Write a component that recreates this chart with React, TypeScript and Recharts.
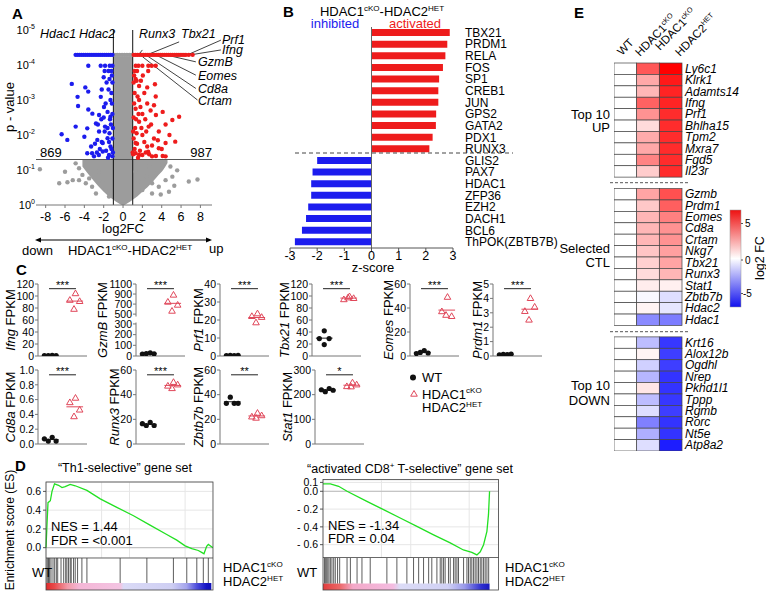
import React from 'react';
import {
  ComposedChart, ScatterChart, BarChart, LineChart,
  Scatter, Bar, Line, Area, Cell,
  XAxis, YAxis, CartesianGrid, ReferenceLine, ReferenceArea,
} from 'recharts';

const FONT = '"Liberation Sans", Arial, Helvetica, sans-serif';
const RED = '#ee1c1c';
const BLUE = '#1c1cee';
const GREY = '#9c9c9c';
const TRI = '#e0475a';

// ---------- A: volcano (x = log2FC, y = -log10 p) ----------
const TOP_P = 4.29;
const DOWN_BAND = [-4.9, -4.7, -4.5, -4.3, -4.1, -3.9, -3.7, -3.5, -3.3, -3.1, -2.9, -2.7, -2.5, -2.3, -2.1, -1.9, -1.7, -1.5, -1.3, -1.1];
const UP_BAND = [1.1, 1.3, 1.5, 1.7, 1.9, 2.1, 2.3, 2.5, 2.7, 2.9, 3.1, 3.3, 3.5, 3.7, 3.9, 4.1, 4.3, 4.5, 4.7, 4.9, 5.1, 5.3, 5.5, 5.7, 5.9, 6.1, 6.3, 6.5, 6.8, 7.2];
const NS_BAND = [-0.85, -0.6, -0.35, -0.1, 0.15, 0.4, 0.65, 0.9];
const DOWN_PTS = [
  [-3.59, 3.98], [-2.31, 3.98], [-1.86, 3.98], [-1.38, 3.98], [-1.1, 3.98], [-1.9, 3.83], [-1.5, 3.83], [-1.2, 3.83],
  [-5.3, 3.46], [-3.9, 3.36], [-3.6, 3.24], [-4.7, 3.09], [-2.3, 3.09], [-4.65, 2.83], [-3.59, 2.73], [-3.17, 2.61],
  [-2.48, 2.57], [-1.97, 2.8], [-1.6, 2.66], [-1.3, 2.52], [-4.9, 2.24], [-3.7, 2.19], [-2.8, 2.33], [-2.48, 2.1],
  [-1.86, 2.24], [-6.35, 2.02], [-5.76, 1.86], [-4.0, 1.95], [-2.66, 1.86], [-2.1, 1.77], [-1.6, 1.91], [-1.3, 1.67],
  [-3.3, 1.67], [-3.7, 1.48], [-3.0, 1.39], [-2.1, 1.53], [-1.45, 1.43], [-1.1, 1.39], [-3.2, 1.48], [-2.5, 1.43],
  [-1.1, 3.5], [-1.2, 3.2], [-1.15, 2.9], [-1.3, 3.0], [-1.1, 2.6], [-1.25, 2.3], [-1.4, 2.05], [-1.1, 1.9],
  [-1.2, 1.6], [-1.45, 1.8], [-1.35, 2.45], [-1.5, 3.3], [-1.8, 2.9], [-1.9, 2.1], [-1.75, 1.55], [-2.2, 1.8],
  [-2.25, 2.45], [-2.2, 3.3], [-1.05, 2.2], [-1.05, 1.5], [-1.6, 2.2], [-1.15, 3.7], [-1.4, 3.6], [-2.6, 2.3],
  [-2.9, 1.75], [-2.7, 1.5], [-1.7, 3.5], [-2.0, 3.65], [-2.4, 1.6], [-1.55, 1.35], [-2.0, 2.5],
];
const UP_PTS = [
  [1.31, 3.98], [1.59, 3.98], [2.0, 3.98], [2.62, 3.98], [2.97, 3.98], [3.38, 3.98], [1.2, 3.83], [1.45, 3.83], [2.6, 3.83],
  [1.3, 3.6], [1.66, 3.4], [2.5, 3.36], [3.3, 3.45], [1.66, 3.0], [2.5, 2.9], [3.38, 3.1], [2.85, 2.7], [2.0, 2.6],
  [3.4, 2.57], [4.1, 2.66], [1.66, 2.38], [2.65, 2.24], [3.7, 2.1], [4.4, 2.3], [5.1, 2.43], [5.8, 2.52], [2.0, 2.0],
  [3.2, 1.9], [4.4, 1.77], [5.4, 1.81], [1.3, 1.77], [2.5, 1.67], [3.7, 1.62], [1.66, 1.43], [3.0, 1.39], [4.4, 1.39],
  [1.3, 1.48], [2.0, 1.43], [2.6, 1.52], [3.4, 1.4], [4.1, 1.4],
  [1.1, 3.5], [1.2, 3.2], [1.15, 2.9], [1.3, 2.75], [1.1, 2.5], [1.25, 2.2], [1.4, 2.05], [1.1, 1.9], [1.2, 1.6],
  [1.45, 1.75], [1.35, 2.45], [1.5, 3.1], [1.8, 2.8], [1.9, 2.2], [1.75, 1.55], [2.2, 1.8], [2.3, 2.45], [2.2, 3.2],
  [1.05, 2.1], [1.05, 1.45], [1.6, 2.6], [1.15, 3.7], [1.4, 3.55], [2.9, 2.3], [3.0, 1.7], [2.7, 1.45], [3.6, 1.85],
  [4.8, 2.0], [4.0, 1.6], [1.85, 3.55], [2.05, 3.7], [2.35, 1.5], [1.55, 1.35], [2.4, 2.1], [3.2, 2.85], [1.0, 1.5],
];
const NS_PTS = [
  [-8.6, 1.02], [-6.6, 0.62], [-5.75, 0.65], [-4.9, 1.19], [-4.55, 1.05], [-4.2, 0.86], [-5.2, 0.71], [-3.85, 0.62],
  [-3.5, 0.76], [-3.2, 0.52], [-2.8, 0.33], [-2.5, 0.95], [-2.15, 0.65], [-1.8, 0.43], [-1.45, 0.24], [-4.55, 0.71],
  [-6.0, 0.95], [1.3, 0.95], [1.66, 0.67], [2.0, 0.43], [2.4, 0.81], [2.7, 1.1], [3.0, 0.62], [3.4, 0.9], [3.7, 0.52],
  [4.1, 1.14], [4.4, 0.71], [5.1, 0.81], [5.6, 0.99], [4.75, 0.38], [3.0, 0.33], [6.8, 0.67], [7.7, 0.73], [4.9, 1.1],
  [5.3, 0.55], [3.9, 0.3],
];
// dense grey core of non-significant genes: [low, high] of -log10 p along log2FC
const CORE_X = [-4.2, -3.5, -3, -2.5, -2, -1.5, -1, -1, -0.5, 0, 0.5, 1, 1, 1.5, 2, 2.5, 3, 3.5, 4.2, 4.6];
const CORE_LO = [1.1, 0.85, 0.68, 0.52, 0.38, 0.25, 0.15, 0.15, 0.06, 0, 0.06, 0.15, 0.15, 0.25, 0.38, 0.5, 0.64, 0.8, 1.02, 1.2];
const CORE_HI = [1.3, 1.3, 1.3, 1.3, 1.3, 1.3, 1.3, 4.25, 4.25, 4.25, 4.25, 4.25, 1.3, 1.3, 1.3, 1.3, 1.3, 1.3, 1.3, 1.3];
// label anchor -> gene point
const LEADERS = [
  [10.12, 4.71, 6.66, 4.29], [10.12, 4.43, 6.31, 4.26], [7.53, 4.09, 4.42, 4.29], [7.53, 3.71, 3.38, 4.29],
  [7.53, 3.33, 2.35, 4.29], [7.7, 3.0, 2.0, 4.24], [2.0, 4.43, 1.66, 4.31], [5.8, 4.66, 2.48, 4.29],
];

// ---------- B: upstream regulators ----------
const TF_NAMES = ['TBX21', 'PRDM1', 'RELA', 'FOS', 'SP1', 'CREB1', 'JUN', 'GPS2', 'GATA2', 'PDX1', 'RUNX3',
  'GLIS2', 'PAX7', 'HDAC1', 'ZFP36', 'EZH2', 'DACH1', 'BCL6', 'ThPOK(ZBTB7B)'];
const TF_Z = [2.88, 2.79, 2.72, 2.63, 2.49, 2.46, 2.46, 2.38, 2.37, 2.25, 2.13,
  -2.0, -2.17, -2.22, -2.22, -2.33, -2.41, -2.56, -2.82];

// ---------- C: FPKM per mouse ----------
const IFNG_WT = [0.8, 0.5, 1.0, 0.6], IFNG_KO = [104, 93, 91, 78];
const GZMB_WT = [18, 22, 30, 20], GZMB_KO = [880, 740, 680, 560];
const PRF1_WT = [0.2, 0.3, 0.2, 0.4], PRF1_KO = [23.5, 22, 21.5, 18.5];
const TBX21_WT = [42, 29, 29, 19], TBX21_KO = [99, 94, 96, 97];
const EOMES_WT = [2, 3, 4.5, 2.5], EOMES_KO = [49, 37, 33, 34];
const PRDM1_WT = [0.08, 0.12, 0.1, 0.14], PRDM1_KO = [4.0, 3.1, 3.4, 2.5];
const CD8A_WT = [0.07, 0.04, 0.09, 0.04], CD8A_KO = [0.62, 0.56, 0.46, 0.37];
const RUNX3_WT = [16.5, 15, 17.5, 15], RUNX3_KO = [50, 47, 48, 45];
const ZBTB7B_WT = [33, 38, 33, 33], ZBTB7B_KO = [25, 22, 23, 21];
const STAT1_WT = [220, 212, 225, 218], STAT1_KO = [248, 233, 240, 232];

// ---------- D: GSEA running enrichment score ----------
const TH1_RANK = [0, 0.6, 1.2, 2.6, 3.6, 5.1, 7.5, 9.6, 11.5, 14.5, 17.5, 24.5, 32.5, 42.4, 52.4, 62.3, 72.3, 78.3, 83.3, 87.3, 91.2, 93.2, 94.6, 96.2, 97.2, 100];
const TH1_ES = [0, 0.25, 0.48, 0.5, 0.6, 0.68, 0.665, 0.64, 0.65, 0.675, 0.66, 0.61, 0.52, 0.43, 0.34, 0.24, 0.14, 0.08, 0.02, -0.01, -0.03, -0.05, -0.065, 0.015, 0.035, 0];
const TH1_HITS = [0.6, 1.2, 1.6, 2.2, 3.0, 4.2, 5.2, 6.2, 7.0, 9.0, 10.6, 11.8, 12.5, 13.5, 14.5, 15.1, 16.5, 17.5, 18.9, 21.5, 24.5, 44.4, 60.4, 76.3, 84.3, 90.3, 94.2, 97.2];
const CD8_RANK = [0, 4.2, 8.9, 13.7, 25, 34.5, 44, 53.5, 63, 72.5, 80, 84.8, 87.7, 89.6, 91.5, 93.4, 94.3, 94.9];
const CD8_ES = [0.083, 0.083, 0.056, 0, -0.113, -0.207, -0.3, -0.395, -0.49, -0.58, -0.66, -0.686, -0.715, -0.68, -0.6, -0.45, -0.26, 0];
const CD8_HITS = [0.8, 1.3, 1.9, 2.7, 3.4, 4.2, 5.1, 6.1, 7.0, 8.3, 9.5, 13.7, 15.6, 19.4, 22.2, 26.9, 36.4, 42.1, 47.8, 51.6, 54.5, 57.3,
  60.2, 62.0, 64.9, 66.8, 67.7, 68.7, 69.6, 71.5, 72.5, 74.4, 75.3, 76.3, 77.2, 80.1, 82.0, 82.9, 83.9, 84.8, 85.8, 86.7, 87.7, 88.6,
  89.6, 90.5, 91.5, 92.4, 93.4, 94.4];

// ---------- E: heatmap log2 FC ----------
const UP_GENES = ['Ly6c1', 'Klrk1', 'Adamts14', 'Ifng', 'Prf1', 'Bhlha15', 'Tpm2', 'Mxra7', 'Fgd5', 'Il23r'];
const UP_KO = [4.6, 2.4, 2.0, 4.3, 3.0, 1.0, 2.3, 2.4, 3.4, 1.4];
const UP_DKO = [7.0, 6.3, 6.0, 6.0, 5.8, 5.8, 5.8, 5.8, 5.8, 5.8];
const CTL_GENES = ['Gzmb', 'Prdm1', 'Eomes', 'Cd8a', 'Crtam', 'Nkg7', 'Tbx21', 'Runx3', 'Stat1', 'Zbtb7b', 'Hdac2', 'Hdac1'];
const CTL_KO = [2.5, 1.5, 2.0, 2.0, 2.0, 1.6, 1.3, 1.0, 0.5, -0.2, 0.3, -3.2];
const CTL_DKO = [4.8, 4.4, 3.5, 3.0, 3.0, 2.6, 2.5, 2.0, 0.4, -0.9, -0.7, -3.6];
const DOWN_GENES = ['Krt16', 'Alox12b', 'Ogdhl', 'Nrep', 'Pkhd1l1', 'Tppp', 'Rgmb', 'Rorc', 'Nt5e', 'Atp8a2'];
const DOWN_KO = [-1.8, 0.3, -1.3, -2.0, 0.7, -1.8, -0.9, -3.5, -2.2, -0.9];
const DOWN_DKO = [-5.5, -5.3, -5.3, -5.6, -5.6, -5.5, -5.3, -5.6, -5.6, -6.2];
const WT_FC = 0;

// ---------- helpers ----------
const Box = ({ x, y, children }: { x: number; y: number; children: React.ReactNode }) => (
  <div style={{ position: 'absolute', left: x, top: y }}>{children}</div>
);
const pts = (a: number[][]) => a.map(([x, y]) => ({ x, y }));
const dot = (fill: string, r = 2.2) => (p: any) => <circle cx={p.cx} cy={p.cy} r={r} fill={fill} />;
const triangle = (p: any) => (
  <path d={`M${p.cx},${p.cy - 3.6}L${p.cx + 3.3},${p.cy + 2.1}L${p.cx - 3.3},${p.cy + 2.1}Z`} fill="none" stroke={TRI} strokeWidth={1} />
);
const mean = (a: number[]) => a.reduce((s, v) => s + v, 0) / a.length;

function PowTick(p: any) {
  const v = p.payload.value;
  return (
    <text x={p.x} y={p.y + 4} textAnchor="end" fontSize={11} fill="#000">
      10<tspan fontSize={7} dy={-5}>{v === 0 ? '0' : `-${v}`}</tspan>
    </text>
  );
}

function Volcano() {
  const core = CORE_X.map((x, i) => ({ x, band: [CORE_LO[i], CORE_HI[i]] }));
  const grey = [...NS_BAND.map((x) => ({ x, y: TOP_P })), ...pts(NS_PTS)];
  const down = [...DOWN_BAND.map((x) => ({ x, y: TOP_P })), ...pts(DOWN_PTS)];
  const up = [...UP_BAND.map((x) => ({ x, y: TOP_P })), ...pts(UP_PTS)];
  return (
    <Box x={0} y={0}>
      <ComposedChart width={230} height={230} margin={{ top: 30, right: 18, bottom: 0, left: 0 }}>
        <XAxis type="number" dataKey="x" domain={[-9, 9.2]} ticks={[-8, -6, -4, -2, 0, 2, 4, 6, 8]} height={25}
          tickSize={3} tickMargin={4} tick={{ fontSize: 12.5, fill: '#000' }} axisLine={{ stroke: '#777' }}
          tickLine={{ stroke: '#777' }} allowDataOverflow interval={0} />
        <YAxis type="number" dataKey="y" domain={[0, 5]} ticks={[0, 1, 2, 3, 4, 5]} width={36} tickSize={0}
          tickMargin={1} axisLine={false} tickLine={false} tick={(p: any) => <PowTick {...p} />} allowDataOverflow interval={0} />
        <Area data={core} dataKey="band" type="monotone" fill={GREY} fillOpacity={1} stroke="none" isAnimationActive={false} />
        <Scatter data={grey} shape={dot(GREY)} isAnimationActive={false} />
        <Scatter data={down} shape={dot(BLUE)} isAnimationActive={false} />
        <Scatter data={up} shape={dot(RED)} isAnimationActive={false} />
        <ReferenceLine y={1.3} stroke="#555" />
        <ReferenceLine x={-1} stroke="#111" />
        <ReferenceLine x={1} stroke="#111" />
        {LEADERS.map((l, i) => (
          <ReferenceLine key={i} segment={[{ x: l[0], y: l[1] }, { x: l[2], y: l[3] }]} stroke="#111"
            strokeWidth={0.8} ifOverflow="visible" />
        ))}
      </ComposedChart>
    </Box>
  );
}

function TfBars() {
  const data = TF_NAMES.map((name, i) => ({ name, z: TF_Z[i] }));
  return (
    <Box x={280} y={0}>
      <BarChart width={290} height={270} layout="vertical" data={data} margin={{ top: 27, right: 0, bottom: 0, left: 10 }}>
        <XAxis type="number" domain={[-3, 3]} ticks={[-3, -2, -1, 0, 1, 2, 3]} height={22} tickSize={3} tickMargin={0}
          tick={{ fontSize: 12.5, fill: '#000' }} axisLine={{ stroke: '#555' }} tickLine={{ stroke: '#555' }} interval={0} />
        <YAxis type="category" dataKey="name" orientation="right" width={117} axisLine={false} tickLine={false}
          tickSize={6} tickMargin={6} interval={0}
          tick={(p: any) => <text x={p.x} y={p.y} dy={4} fontSize={12} textAnchor="start" fill="#000">{p.payload.value}</text>} />
        <Bar dataKey="z" barSize={7} isAnimationActive={false}>
          {data.map((d, i) => <Cell key={i} fill={d.z > 0 ? RED : BLUE} />)}
        </Bar>
        <ReferenceLine x={0} stroke="#666" />
      </BarChart>
    </Box>
  );
}

// ---------- C ----------
const WT_JIT = [-0.24, -0.08, 0.08, 0.24];
const KO_JIT = [0.03, -0.2, 0.2, -0.03];
const YW = 44;
const gzDisp = (v: number) => (v <= 300 ? v : v < 500 ? 300 + (v - 300) * 0.46 : 392 + (v - 500) * 0.47);

const C_PANELS: any[] = [
  { gene: 'Ifng', axisX: 38, top: 284, h: 72, max: 120, ticks: [0, 20, 40, 60, 80, 100, 120], wt: IFNG_WT, ko: IFNG_KO, sig: '***', dx: 28 },
  { gene: 'GzmB', axisX: 136, top: 284, h: 72, max: 1100, ticks: [0, 100, 200, 300, 500, 700, 900, 1100], wt: GZMB_WT, ko: GZMB_KO, sig: '***', dx: 34, disp: gzDisp },
  { gene: 'Prf1', axisX: 220, top: 284, h: 72, max: 40, ticks: [0, 10, 20, 30, 40], wt: PRF1_WT, ko: PRF1_KO, sig: '***', dx: 22 },
  { gene: 'Tbx21', axisX: 312, top: 284, h: 72, max: 120, ticks: [0, 20, 40, 60, 80, 100, 120], wt: TBX21_WT, ko: TBX21_KO, sig: '***', dx: 28, wtJit: [0, -0.2, 0.2, 0] },
  { gene: 'Eomes', axisX: 410, top: 284, h: 72, max: 60, ticks: [0, 20, 40, 60], wt: EOMES_WT, ko: EOMES_KO, sig: '***', dx: 22 },
  { gene: 'Prdm1', axisX: 493, top: 284, h: 72, max: 5, ticks: [0, 1, 2, 3, 4, 5], wt: PRDM1_WT, ko: PRDM1_KO, sig: '***', dx: 16 },
  { gene: 'Cd8a', axisX: 38, top: 370, h: 74, max: 1, ticks: [0, 0.2, 0.4, 0.6, 0.8, 1], wt: CD8A_WT, ko: CD8A_KO, sig: '***', dx: 28, fmt: (v: number) => v.toFixed(1) },
  { gene: 'Runx3', axisX: 136, top: 370, h: 74, max: 60, ticks: [0, 20, 40, 60], wt: RUNX3_WT, ko: RUNX3_KO, sig: '***', dx: 22 },
  { gene: 'Zbtb7b', axisX: 220, top: 370, h: 74, max: 60, ticks: [0, 20, 40, 60], wt: ZBTB7B_WT, ko: ZBTB7B_KO, sig: '**', dx: 22 },
  { gene: 'Stat1', axisX: 315, top: 370, h: 74, max: 300, ticks: [0, 100, 200, 300], wt: STAT1_WT, ko: STAT1_KO, sig: '*', dx: 28 },
];

function MiniPlot({ c }: { c: any }) {
  const d = c.disp || ((v: number) => v);
  const fmt = c.fmt || ((v: number) => String(v));
  const wj = c.wtJit || WT_JIT;
  const wt = c.wt.map((v: number, i: number) => ({ x: 1 + wj[i % 4], y: d(v) }));
  const ko = c.ko.map((v: number, i: number) => ({ x: 2 + KO_JIT[i % 4], y: d(v) }));
  const top = d(c.max);
  const dTicks = c.ticks.map(d);
  const sigY = top * 0.935;
  const mw = d(mean(c.wt));
  const mk = d(mean(c.ko));
  return (
    <Box x={c.axisX - YW} y={c.top - 8}>
      <ScatterChart width={YW + 52} height={c.h + 16} margin={{ top: 8, right: 3, bottom: 7, left: 0 }}>
        <XAxis type="number" dataKey="x" domain={[0.5, 2.5]} tick={false} tickLine={false} height={1} axisLine={{ stroke: '#777' }} />
        <YAxis type="number" dataKey="y" domain={[0, top]} ticks={dTicks} width={YW} interval={0} allowDataOverflow
          tickFormatter={(v: number) => fmt(c.ticks[dTicks.findIndex((t: number) => Math.abs(t - v) < 1e-6)])}
          tick={{ fontSize: 10.5, fill: '#000' }} tickSize={3} tickMargin={1}
          tickLine={{ stroke: '#777' }} axisLine={{ stroke: '#777' }} />
        <ReferenceLine segment={[{ x: 0.66, y: mw }, { x: 1.34, y: mw }]} stroke="#222" />
        <ReferenceLine segment={[{ x: 1.66, y: mk }, { x: 2.34, y: mk }]} stroke={TRI} />
        <ReferenceLine segment={[{ x: 0.95, y: sigY }, { x: 2.05, y: sigY }]} stroke="#222"
          label={{ value: c.sig, position: 'top', fontSize: 11, fill: '#000', offset: 0 }} />
        <Scatter data={wt} shape={dot('#111', 2.6)} isAnimationActive={false} />
        <Scatter data={ko} shape={triangle} isAnimationActive={false} />
      </ScatterChart>
    </Box>
  );
}

// ---------- D ----------
const GRID_X = [16.7, 33.3, 50, 66.7, 83.3];
const LEFT_STOPS = [['0%', '#e02a2a'], ['5%', '#e84a4a'], ['13%', '#f29aa8'], ['20%', '#f5b6d6'], ['45%', '#f3c4e2'],
  ['47%', '#dadaf6'], ['76%', '#cfcff3'], ['85%', '#a4a4ec'], ['91%', '#5050dc'], ['97%', '#1414c4'], ['100%', '#1010b8']];
const RIGHT_STOPS = [['0%', '#e23c3c'], ['10%', '#ec6868'], ['18%', '#f3a8c8'], ['42%', '#f4bce0'], ['46%', '#dcdcf6'],
  ['75%', '#d0d0f4'], ['85%', '#9a9aea'], ['95%', '#3030d0'], ['100%', '#1818c0']];

function Gsea(g: any) {
  const data = g.ranks.map((r: number, i: number) => ({ r, es: g.es[i] }));
  const hitPts = g.hits.map((r: number) => ({ r, y: 1 }));
  const barH = 590 - (g.top + g.esH);
  return (
    <>
      <Box x={g.left - g.yW} y={g.top - 6}>
        <LineChart width={g.yW + g.plotW} height={g.esH + 6} data={data} margin={{ top: 6, right: 0, bottom: 0, left: 0 }}>
          <CartesianGrid stroke="#e6e6e6" />
          <XAxis type="number" dataKey="r" domain={[0, 100]} ticks={GRID_X} hide />
          <YAxis type="number" domain={g.domain} ticks={g.ticks} tickFormatter={g.fmt} width={g.yW} tickSize={3}
            tickMargin={2} axisLine={false} tickLine={{ stroke: '#555' }} tick={{ fontSize: 10.5, fill: '#000' }}
            allowDataOverflow interval={0} />
          <ReferenceLine y={0} stroke="#bbb" />
          <Line dataKey="es" type="linear" stroke="#22e022" strokeWidth={1.3} dot={false} isAnimationActive={false} />
        </LineChart>
      </Box>
      <Box x={g.left} y={g.top + g.esH}>
        <ScatterChart width={g.plotW} height={barH} margin={{ top: 0, right: 0, bottom: 0, left: 0 }}>
          <defs>
            <linearGradient id={g.gradId} x1="0" y1="0" x2="1" y2="0">
              {g.stops.map((s: string[], i: number) => <stop key={i} offset={s[0]} stopColor={s[1]} />)}
            </linearGradient>
          </defs>
          <XAxis type="number" dataKey="r" domain={[0, 100]} hide />
          <YAxis type="number" dataKey="y" domain={[0, 1]} hide />
          <ReferenceArea x1={0} x2={g.colorEnd} y1={0} y2={7 / barH} fill={`url(#${g.gradId})`} fillOpacity={1} stroke="none" />
          <Scatter data={hitPts} isAnimationActive={false}
            shape={(p: any) => <line x1={p.cx} x2={p.cx} y1={p.cy} y2={p.cy + barH - 7} stroke="#333" strokeWidth={0.8} />} />
        </ScatterChart>
      </Box>
    </>
  );
}

// ---------- E ----------
const CW = 68 / 3;
const CH = 388 / 34;
const heat = (v: number) => {
  const t = Math.min(Math.abs(v) / 7, 1);
  const c = Math.round(255 * (1 - t));
  return v >= 0 ? `rgb(255,${c},${c})` : `rgb(${c},${c},255)`;
};

function Heatmap() {
  const rows = [
    ...UP_GENES.map((g, i) => ({ g, r: i, ko: UP_KO[i], dko: UP_DKO[i] })),
    ...CTL_GENES.map((g, i) => ({ g, r: 11 + i, ko: CTL_KO[i], dko: CTL_DKO[i] })),
    ...DOWN_GENES.map((g, i) => ({ g, r: 24 + i, ko: DOWN_KO[i], dko: DOWN_DKO[i] })),
  ];
  const cells = rows.flatMap((row) => [
    { x: 0.5, y: row.r + 0.5, v: WT_FC },
    { x: 1.5, y: row.r + 0.5, v: row.ko },
    { x: 2.5, y: row.r + 0.5, v: row.dko },
  ]);
  const ticks = rows.map((r) => r.r + 0.5);
  const names: Record<string, string> = {};
  rows.forEach((r) => { names[String(r.r + 0.5)] = r.g; });
  return (
    <Box x={614} y={62}>
      <ScatterChart width={140} height={389} margin={{ top: 1, right: 0, bottom: 0, left: 0 }}>
        <XAxis type="number" dataKey="x" domain={[0, 3]} hide />
        <YAxis type="number" dataKey="y" domain={[0, 34]} reversed orientation="right" width={72} ticks={ticks}
          interval={0} axisLine={false} tickLine={false} tickSize={1} tickMargin={2}
          tick={(p: any) => (
            <text x={p.x} y={p.y} dy={4} fontSize={12} fontStyle="italic" textAnchor="start" fill="#000">
              {names[String(p.payload.value)]}
            </text>
          )} />
        <Scatter data={cells} isAnimationActive={false}
          shape={(p: any) => {
            const v = p.payload ? p.payload.v : p.v;
            return <rect x={p.cx - CW / 2} y={p.cy - CH / 2} width={CW} height={CH} fill={heat(v)} stroke="#444" strokeWidth={0.7} />;
          }} />
      </ScatterChart>
    </Box>
  );
}

// ---------- overlay text ----------
function SupText({ x, y, main, sup, size = 13, anchor = 'start', transform, fill = '#000' }: any) {
  return (
    <text x={x} y={y} fontSize={size} textAnchor={anchor} transform={transform} fill={fill}>
      {main}<tspan fontSize={size * 0.62} dy={-size * 0.4}>{sup}</tspan>
    </text>
  );
}
function HdacLine({ x, y, size = 13, anchor = 'start' }: any) {
  return (
    <text x={x} y={y} fontSize={size} textAnchor={anchor}>
      HDAC1<tspan fontSize={size * 0.62} dy={-size * 0.4}>cKO</tspan>
      <tspan dy={size * 0.4}>-HDAC2</tspan>
      <tspan fontSize={size * 0.62} dy={-size * 0.4}>HET</tspan>
    </text>
  );
}

const A_LABELS: [string, number, number][] = [['Hdac1', 40, 38], ['Hdac2', 79, 38], ['Runx3', 139, 38], ['Tbx21', 181, 38],
  ['Prf1', 222, 44], ['Ifng', 222, 54], ['GzmB', 198, 66], ['Eomes', 198, 80], ['Cd8a', 198, 93], ['Crtam', 198, 105]];

function Overlay() {
  return (
    <svg width={766} height={591} style={{ position: 'absolute', left: 0, top: 0, pointerEvents: 'none' }} fontFamily={FONT}>
      <defs>
        <linearGradient id="cbE" x1="0" y1="0" x2="0" y2="1">
          <stop offset="0%" stopColor="#ee1111" />
          <stop offset="50%" stopColor="#ffffff" />
          <stop offset="100%" stopColor="#1111ee" />
        </linearGradient>
      </defs>
      {/* panel letters */}
      <g fontSize={15} fontWeight="bold">
        <text x={12} y={19}>A</text>
        <text x={283} y={17}>B</text>
        <text x={16} y={275}>C</text>
        <text x={15} y={471}>D</text>
        <text x={574} y={18}>E</text>
      </g>
      {/* A */}
      <g fontSize={12.5} fontStyle="italic">
        {A_LABELS.map(([t, x, y]) => <text key={t} x={x} y={y}>{t}</text>)}
      </g>
      <text x={40} y={157} fontSize={13}>869</text>
      <text x={212} y={157} fontSize={13} textAnchor="end">987</text>
      <text transform="translate(14,107) rotate(-90)" textAnchor="middle" fontSize={13}>p - value</text>
      <text x={123} y={233} fontSize={13} textAnchor="middle">log2FC</text>
      <line x1={38} y1={240} x2={209} y2={240} stroke="#000" strokeWidth={1} />
      <path d="M35,240L41,237.5L41,242.5Z" fill="#000" />
      <path d="M212,240L206,237.5L206,242.5Z" fill="#000" />
      <text x={22} y={255} fontSize={13}>down</text>
      <HdacLine x={130} y={255} anchor="middle" />
      <text x={209} y={253} fontSize={13}>up</text>
      {/* B */}
      <HdacLine x={382} y={16} anchor="middle" />
      <text x={335} y={28} fontSize={13} textAnchor="middle" fill={BLUE}>inhibited</text>
      <text x={415} y={28} fontSize={13} textAnchor="middle" fill={RED}>activated</text>
      <text x={373} y={272} fontSize={13} textAnchor="middle">z-score</text>
      <line x1={295} y1={153} x2={513} y2={153} stroke="#444" strokeDasharray="4 3" />
      {/* C */}
      {C_PANELS.map((c) => (
        <text key={c.gene} transform={`translate(${c.axisX - c.dx},${c.top + c.h / 2}) rotate(-90)`} textAnchor="middle"
          dy="0.35em" fontSize={13}>
          <tspan fontStyle="italic">{c.gene}</tspan>{' FPKM'}
        </text>
      ))}
      <rect x={134.5} y={316.5} width={3} height={6} fill="#fff" />
      <circle cx={413} cy={377.5} r={3} fill="#111" />
      <text x={422} y={382} fontSize={13}>WT</text>
      <path d="M414,390.5L417.3,396.2L410.7,396.2Z" fill="none" stroke={TRI} />
      <SupText x={422} y={398.5} main="HDAC1" sup="cKO" />
      <SupText x={422} y={412} main="HDAC2" sup="HET" />
      {/* D */}
      <text x={125} y={472} fontSize={12.5} textAnchor="middle">{'\u201CTh1-selective\u201D gene set'}</text>
      <text x={410} y={473} fontSize={12.5} textAnchor="middle">
        {'\u201Cactivated CD8'}<tspan fontSize={8} dy={-5}>+</tspan><tspan dy={5}>{' T-selective\u201D gene set'}</tspan>
      </text>
      <rect x={46} y={482} width={167} height={108} fill="none" stroke="#444" strokeWidth={0.8} />
      <line x1={46} y1={558} x2={213} y2={558} stroke="#444" strokeWidth={0.8} />
      <rect x={323} y={479.5} width={175.5} height={110.5} fill="none" stroke="#444" strokeWidth={0.8} />
      <line x1={323} y1={557.5} x2={498.5} y2={557.5} stroke="#444" strokeWidth={0.8} />
      <text x={51} y={531} fontSize={13}>NES = 1.44</text>
      <text x={51} y={545} fontSize={13}>{'FDR = <0.001'}</text>
      <text x={328} y={530} fontSize={13}>NES = -1.34</text>
      <text x={328} y={543} fontSize={13}>FDR = 0.04</text>
      <text transform="translate(14,530) rotate(-90)" textAnchor="middle" fontSize={12}>Enrichment score (ES)</text>
      <text x={32} y={577} fontSize={13}>WT</text>
      <text x={297} y={577} fontSize={13}>WT</text>
      <SupText x={223} y={572} main="HDAC1" sup="cKO" />
      <SupText x={223} y={586} main="HDAC2" sup="HET" />
      <SupText x={505} y={572} main="HDAC1" sup="cKO" />
      <SupText x={505} y={586} main="HDAC2" sup="HET" />
      {/* E */}
      <text transform="translate(622,56) rotate(-46)" fontSize={11.5}>WT</text>
      <SupText x={0} y={0} main="HDAC1" sup="cKO" size={11.5} transform="translate(640,57) rotate(-46)" />
      <SupText x={0} y={0} main="HDAC1" sup="cKO" size={11.5} transform="translate(660,51) rotate(-46)" />
      <SupText x={0} y={0} main="HDAC2" sup="HET" size={11.5} transform="translate(680,57) rotate(-46)" />
      <g fontSize={13} textAnchor="end">
        <text x={610} y={119}>Top 10</text>
        <text x={610} y={132}>UP</text>
        <text x={610} y={253}>Selected</text>
        <text x={610} y={267}>CTL</text>
        <text x={610} y={390}>Top 10</text>
        <text x={610} y={405}>DOWN</text>
      </g>
      <line x1={610} y1={182.7} x2={688} y2={182.7} stroke="#555" strokeDasharray="3 2" />
      <line x1={610} y1={331.7} x2={688} y2={331.7} stroke="#555" strokeDasharray="3 2" />
      <rect x={730} y={210} width={11} height={97} fill="url(#cbE)" stroke="#999" strokeWidth={0.5} />
      <g stroke="#555">
        <line x1={741} y1={223.5} x2={743} y2={223.5} />
        <line x1={741} y1={260} x2={743} y2={260} />
        <line x1={741} y1={293.5} x2={743} y2={293.5} />
      </g>
      <g fontSize={10}>
        <text x={745} y={227}>5</text>
        <text x={745} y={263.5}>0</text>
        <text x={743} y={297}>-5</text>
      </g>
      <text transform="translate(764,258) rotate(-90)" textAnchor="middle" fontSize={12.5}>log2 FC</text>
    </svg>
  );
}

export default function App() {
  const fmtL = (v: number) => v.toFixed(1);
  const fmtR = (v: number) => (v < 0 ? `- ${Math.abs(v).toFixed(1)}` : v.toFixed(1));
  return (
    <div style={{ position: 'absolute', left: 0, top: 0, width: 766, height: 591, background: '#fff', fontFamily: FONT, overflow: 'hidden' }}>
      <Volcano />
      <TfBars />
      {C_PANELS.map((c) => <MiniPlot key={c.gene} c={c} />)}
      <Gsea left={46} top={482} plotW={167} esH={76} yW={46} ranks={TH1_RANK} es={TH1_ES} hits={TH1_HITS}
        domain={[-0.11, 0.7]} ticks={[0, 0.2, 0.4, 0.6]} fmt={fmtL} gradId="gL" stops={LEFT_STOPS} colorEnd={99} />
      <Gsea left={323} top={479.5} plotW={175.5} esH={78} yW={50} ranks={CD8_RANK} es={CD8_ES} hits={CD8_HITS}
        domain={[-0.75, 0.127]} ticks={[-0.6, -0.4, -0.2, 0, 0.1]} fmt={fmtR} gradId="gR" stops={RIGHT_STOPS} colorEnd={94.9} />
      <Heatmap />
      <Overlay />
    </div>
  );
}
